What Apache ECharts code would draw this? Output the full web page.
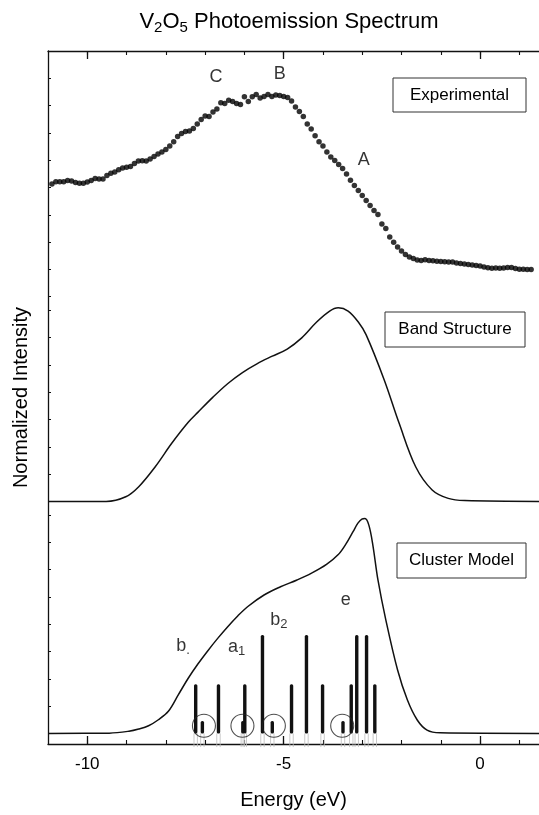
<!DOCTYPE html>
<html><head><meta charset="utf-8">
<script src="https://cdn.jsdelivr.net/npm/echarts@6/dist/echarts.min.js"></script>
<style>html,body{margin:0;padding:0;background:#fff}#c{width:539px;height:815px}</style>
</head><body><div id="c"></div>
<script>
const FONT = "'Liberation Sans', Arial, Helvetica, sans-serif";
const INK = '#111';

// ---- axes ----
const xMin = -11, xMax = 1.5;
const majorTicks = [-10, -5, 0];
const minorTicks = [-10, -9, -8, -7, -6, -5, -4, -3, -2, -1, 0, 1];

// ---- Experimental (dots) ----
const expEnergy = [
  -10.9,-10.8,-10.7,-10.6,-10.5,-10.4,-10.3,-10.2,-10.1,-10.0,
  -9.9,-9.8,-9.7,-9.6,-9.5,-9.4,-9.3,-9.2,-9.1,-9.0,
  -8.9,-8.8,-8.7,-8.6,-8.5,-8.4,-8.3,-8.2,-8.1,-8.0,
  -7.9,-7.8,-7.7,-7.6,-7.5,-7.4,-7.3,-7.2,-7.1,-7.0,
  -6.9,-6.8,-6.7,-6.6,-6.5,-6.4,-6.3,-6.2,-6.1,-6.0,
  -5.9,-5.8,-5.7,-5.6,-5.5,-5.4,-5.3,-5.2,-5.1,-5.0,
  -4.9,-4.8,-4.7,-4.6,-4.5,-4.4,-4.3,-4.2,-4.1,-4.0,
  -3.9,-3.8,-3.7,-3.6,-3.5,-3.4,-3.3,-3.2,-3.1,-3.0,
  -2.9,-2.8,-2.7,-2.6,-2.5,-2.4,-2.3,-2.2,-2.1,-2.0,
  -1.9,-1.8,-1.7,-1.6,-1.5,-1.4,-1.3,-1.2,-1.1,-1.0,
  -0.9,-0.8,-0.7,-0.6,-0.5,-0.4,-0.3,-0.2,-0.1,0.0,
  0.1,0.2,0.3,0.4,0.5,0.6,0.7,0.8,0.9,1.0,
  1.1,1.2,1.3
];
const expIntensity = [
  4.13,4.21,4.21,4.21,4.26,4.24,4.18,4.16,4.16,4.20,
  4.26,4.33,4.31,4.31,4.44,4.52,4.57,4.65,4.71,4.74,
  4.77,4.88,4.97,4.98,4.97,5.04,5.14,5.23,5.30,5.39,
  5.52,5.68,5.87,5.98,6.05,6.07,6.16,6.33,6.49,6.62,
  6.60,6.77,6.88,7.10,7.08,7.20,7.15,7.08,7.04,7.32,
  7.15,7.32,7.41,7.28,7.33,7.41,7.33,7.39,7.37,7.33,
  7.30,7.17,6.95,6.78,6.60,6.33,6.14,5.90,5.68,5.52,
  5.30,5.12,4.99,4.84,4.70,4.49,4.27,4.07,3.89,3.71,
  3.52,3.34,3.16,3.01,2.66,2.50,2.19,1.99,1.82,1.67,
  1.55,1.45,1.40,1.34,1.33,1.35,1.33,1.32,1.30,1.29,
  1.28,1.27,1.27,1.23,1.22,1.20,1.18,1.16,1.14,1.12,
  1.09,1.06,1.04,1.05,1.04,1.05,1.07,1.07,1.03,1.01,
  1.01,1.00,1.00
];
const peakNames = ['C', 'B', 'A'];
const peakEnergy = [-6.72, -5.10, -2.96];
const peakLevel = [8.05, 8.16, 5.01];

// ---- Band Structure (curve) ----
const bandEnergy = [-11.0,-9.52,-9.02,-8.69,-8.27,-7.85,-7.43,-7.18,-6.80,-6.42,-6.05,-5.67,-5.29,-4.91,-4.54,-4.16,-3.83,-3.61,-3.36,-3.10,-2.90,-2.44,-2.06,-1.64,-1.22,-0.81,-0.39,1.5];
const bandIntensity = [0,0,0.17,0.54,1.27,2.13,2.90,3.27,3.82,4.32,4.72,5.05,5.32,5.58,5.99,6.57,6.97,7.09,6.97,6.57,6.10,4.45,2.86,1.27,0.42,0.11,0.03,0];

// ---- Cluster Model (curve + levels) ----
const clusterEnergy = [-11.0,-9.44,-8.94,-8.69,-8.44,-8.19,-7.93,-7.68,-7.43,-7.18,-6.93,-6.68,-6.43,-6.17,-5.92,-5.50,-5.08,-4.66,-4.29,-3.91,-3.61,-3.41,-3.23,-3.11,-3.01,-2.93,-2.83,-2.73,-2.60,-2.40,-2.10,-1.85,-1.60,-1.35,-1.02,1.5];
const clusterIntensity = [0,0.01,0.08,0.16,0.28,0.50,0.82,1.42,2.02,2.55,3.03,3.48,3.90,4.30,4.64,5.07,5.37,5.62,5.87,6.19,6.55,6.95,7.40,7.70,7.85,7.87,7.62,6.90,5.62,4.16,2.32,1.22,0.49,0.12,0.02,0];
const levelEnergy = [-7.24,-6.66,-5.99,-5.54,-4.80,-4.42,-4.01,-3.28,-3.14,-2.89,-2.68];
const levelHeight = [1.8,1.8,1.8,3.6,1.8,3.6,1.8,1.8,3.6,3.6,1.8];
const weakEnergy = [-7.07,-6.04,-5.29,-3.49];
const weakHeight = [0.45,0.45,0.45,0.45];
const circleEnergy = [-7.03,-6.05,-5.25,-3.51];
const circleLevel = [0.28,0.28,0.28,0.28];
const symNames = ['{m|b}{s|.}', '{m|a}{s|1}', '{m|b}{s|2}', '{m|e}'];
const symEnergy = [-7.56, -6.20, -5.12, -3.42];
const symLevel = [3.21, 3.17, 4.15, 4.89];

const chart = echarts.init(document.getElementById('c'), null, {renderer: 'canvas'});

const W = 497, L = 48;
const hiddenX = (g) => ({type:'value', gridIndex:g, min:xMin, max:xMax, show:false});
const panelY = (g, max) => ({
  type:'value', gridIndex:g, min:0, max:max, interval:1, position:'left',
  axisLine:{show:false, onZero:false}, axisLabel:{show:false}, splitLine:{show:false},
  axisTick:{show:true, inside:true, length:3, lineStyle:{color:INK, width:1}}
});

function renderLevels(params, api) {
  const e = api.value(0), h = api.value(1);
  const base = api.coord([e, 0]);
  const top = api.coord([e, h]);
  const foot = api.coord([e, -0.5]);
  const w = 3.4;
  return {type:'group', children:[
    {type:'line', shape:{x1:base[0]-w/2, y1:base[1], x2:base[0]-w/2, y2:foot[1]}, style:{stroke:'#bdbdbd', lineWidth:0.8}},
    {type:'line', shape:{x1:base[0]+w/2, y1:base[1], x2:base[0]+w/2, y2:foot[1]}, style:{stroke:'#bdbdbd', lineWidth:0.8}},
    {type:'rect', shape:{x:base[0]-w/2, y:top[1], width:w, height:base[1]-top[1], r:1.5}, style:{fill:INK}}
  ]};
}

const richSub = {
  m:{fontSize:18, fontFamily:FONT, color:'#000', lineHeight:22},
  s:{fontSize:13, fontFamily:FONT, color:'#000', lineHeight:6, verticalAlign:'bottom'}
};

const option = {
  backgroundColor:'#fff',
  animation:false,
  grid:[
    {left:L, width:W, top:51, height:696},
    {left:L, width:W, top:51, height:245.7},
    {left:L, width:W, top:310.3, height:191.1},
    {left:L, width:W, top:515, height:218.4}
  ],
  xAxis:[
    {type:'value', gridIndex:0, position:'bottom', min:xMin, max:xMax,
     axisLine:{show:true, onZero:false, lineStyle:{color:INK, width:1.3}},
     axisTick:{show:true, inside:true, length:8, customValues:majorTicks, lineStyle:{color:INK, width:1.3}},
     axisLabel:{show:true, customValues:majorTicks, margin:12, fontSize:17, fontFamily:FONT, color:'#000'},
     splitLine:{show:false},
     name:'Energy (eV)', nameLocation:'middle', nameGap:46,
     nameTextStyle:{fontSize:20, fontFamily:FONT, color:'#000'}},
    {type:'value', gridIndex:0, position:'bottom', min:xMin, max:xMax,
     axisLine:{show:false, onZero:false}, axisLabel:{show:false}, splitLine:{show:false},
     axisTick:{show:true, inside:true, length:4, customValues:minorTicks, lineStyle:{color:INK, width:1.1}}},
    {type:'value', gridIndex:0, position:'top', min:xMin, max:xMax,
     axisLine:{show:true, onZero:false, lineStyle:{color:INK, width:1.3}},
     axisTick:{show:true, inside:true, length:8, customValues:majorTicks, lineStyle:{color:INK, width:1.3}},
     axisLabel:{show:false}, splitLine:{show:false}},
    {type:'value', gridIndex:0, position:'top', min:xMin, max:xMax,
     axisLine:{show:false, onZero:false}, axisLabel:{show:false}, splitLine:{show:false},
     axisTick:{show:true, inside:true, length:4, customValues:minorTicks, lineStyle:{color:INK, width:1.1}}},
    hiddenX(1), hiddenX(2), hiddenX(3)
  ],
  yAxis:[
    {type:'value', gridIndex:0, min:0, max:1, position:'left',
     axisLine:{show:true, onZero:false, lineStyle:{color:INK, width:1.3}},
     axisTick:{show:false}, axisLabel:{show:false}, splitLine:{show:false},
     name:'Normalized Intensity', nameLocation:'middle', nameGap:17,
     nameTextStyle:{fontSize:20, fontFamily:FONT, color:'#000'}},
    panelY(1, 9), panelY(2, 7), panelY(3, 8)
  ],
  graphic:[
    {type:'text', x:289, y:22, z:10,
     style:{text:'{m|V}{s|2}{m|O}{s|5}{m| Photoemission Spectrum}', align:'center', verticalAlign:'middle',
       rich:{m:{fontSize:22, fontFamily:FONT, fill:'#000', color:'#000', lineHeight:26},
             s:{fontSize:15, fontFamily:FONT, fill:'#000', color:'#000', lineHeight:6, verticalAlign:'bottom'}}}},
    {type:'group', x:393, y:78, z:10, children:[
      {type:'rect', shape:{x:0, y:0, width:133, height:34}, style:{fill:'#fff', stroke:'#333', lineWidth:1}},
      {type:'text', x:66.5, y:17, style:{text:'Experimental', align:'center', verticalAlign:'middle', fontSize:17, fontFamily:FONT, fill:'#000'}}
    ]},
    {type:'group', x:385, y:312, z:10, children:[
      {type:'rect', shape:{x:0, y:0, width:140, height:35}, style:{fill:'#fff', stroke:'#333', lineWidth:1}},
      {type:'text', x:70, y:17.5, style:{text:'Band Structure', align:'center', verticalAlign:'middle', fontSize:17, fontFamily:FONT, fill:'#000'}}
    ]},
    {type:'group', x:397, y:543, z:10, children:[
      {type:'rect', shape:{x:0, y:0, width:129, height:35}, style:{fill:'#fff', stroke:'#333', lineWidth:1}},
      {type:'text', x:64.5, y:17.5, style:{text:'Cluster Model', align:'center', verticalAlign:'middle', fontSize:17, fontFamily:FONT, fill:'#000'}}
    ]}
  ],
  series:[
    {type:'scatter', xAxisIndex:4, yAxisIndex:1, symbol:'circle', symbolSize:5.5,
     itemStyle:{color:'#000'}, clip:false,
     data:expEnergy.map((e,i)=>[e, expIntensity[i]])},
    {type:'scatter', xAxisIndex:4, yAxisIndex:1, symbolSize:0, clip:false,
     label:{show:true, position:'inside', formatter:'{b}', fontSize:18, fontFamily:FONT, color:'#000'},
     data:peakNames.map((n,i)=>({name:n, value:[peakEnergy[i], peakLevel[i]]}))},
    {type:'line', xAxisIndex:5, yAxisIndex:2, showSymbol:false, smooth:0.35, clip:false,
     lineStyle:{color:INK, width:1.5},
     data:bandEnergy.map((e,i)=>[e, bandIntensity[i]])},
    {type:'line', xAxisIndex:6, yAxisIndex:3, showSymbol:false, smooth:0.35, clip:false,
     lineStyle:{color:INK, width:1.5},
     data:clusterEnergy.map((e,i)=>[e, clusterIntensity[i]])},
    {type:'custom', xAxisIndex:6, yAxisIndex:3, clip:false, renderItem:renderLevels,
     data:levelEnergy.map((e,i)=>[e, levelHeight[i]])},
    {type:'custom', xAxisIndex:6, yAxisIndex:3, clip:false, renderItem:renderLevels,
     data:weakEnergy.map((e,i)=>[e, weakHeight[i]])},
    {type:'scatter', xAxisIndex:6, yAxisIndex:3, symbol:'circle', symbolSize:23, clip:false,
     itemStyle:{color:'rgba(0,0,0,0)', borderColor:'#222', borderWidth:1.1},
     data:circleEnergy.map((e,i)=>[e, circleLevel[i]])},
    {type:'scatter', xAxisIndex:6, yAxisIndex:3, symbolSize:0, clip:false,
     label:{show:true, position:'inside', formatter:(p)=>p.name, rich:richSub},
     data:symNames.map((n,i)=>({name:n, value:[symEnergy[i], symLevel[i]]}))}
  ]
};
chart.setOption(option);
</script>
</body></html>
